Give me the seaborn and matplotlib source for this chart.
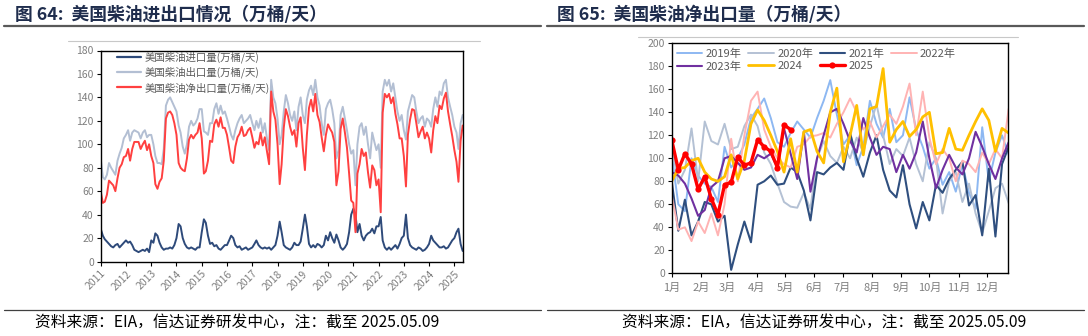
import numpy as np
import pandas as pd
import matplotlib
matplotlib.use("Agg")
import matplotlib.pyplot as plt
from matplotlib.lines import Line2D
import seaborn as sns

# ---------------- data: left chart (monthly, 2011-01 .. 2025-05, 万桶/天) ----------------
export_vol = [
    88, 72, 70, 74, 84, 80, 77, 74, 86, 92, 97, 105,          # 2011
    108, 112, 103, 110, 112, 111, 110, 105, 110, 112, 106, 108,  # 2012
    108, 100, 90, 84, 84, 83, 96, 133, 138, 140, 136, 132,    # 2013
    128, 116, 110, 98, 92, 100, 115, 120, 116, 118, 122, 130,  # 2014
    130, 111, 110, 108, 118, 118, 130, 135, 126, 133, 126, 128,  # 2015
    122, 115, 108, 104, 112, 118, 122, 125, 118, 120, 122, 125,  # 2016
    118, 112, 120, 114, 122, 110, 118, 105, 95, 155, 140, 135,  # 2017
    122, 100, 108, 128, 142, 135, 125, 120, 128, 112, 132, 140,  # 2018
    125, 118, 138, 146, 150, 142, 155, 140, 133, 118, 108, 130,  # 2019
    135, 138, 130, 118, 88, 95, 125, 132, 122, 112, 100, 92,   # 2020
    95, 65, 100, 115, 118, 108, 115, 100, 88, 110, 102, 95,    # 2021
    100, 80, 145, 155, 150, 155, 145, 152, 140, 128, 120, 125,  # 2022
    112, 104, 128, 135, 142, 140, 128, 118, 122, 124, 115, 122,  # 2023
    120, 115, 130, 140, 132, 145, 142, 152, 155, 140, 132, 125,  # 2024
    115, 110, 96, 118, 125,                                   # 2025
]
import_vol = [
    28, 22, 19, 17, 15, 13, 12, 14, 15, 12, 14, 16,
    18, 16, 17, 14, 10, 9, 8, 9, 10, 9, 11, 8,
    18, 16, 24, 22, 16, 12, 10, 11, 11, 12, 11, 14,
    20, 32, 30, 20, 15, 12, 11, 12, 11, 10, 12, 12,
    25, 36, 33, 22, 15, 16, 13, 14, 11, 10, 12, 14,
    14, 18, 22, 20, 14, 12, 13, 10, 11, 12, 10, 11,
    12, 15, 18, 14, 12, 11, 12, 11, 12, 10, 12, 14,
    22, 34, 25, 14, 12, 11, 10, 12, 16, 14, 14, 17,
    28, 40, 30, 15, 12, 14, 12, 15, 14, 12, 14, 22,
    18, 25, 20, 16, 23, 18, 12, 10, 12, 15, 25, 40,
    45, 40, 25, 32, 22, 18, 22, 24, 25, 28, 24, 30,
    30, 38, 18, 12, 10, 12, 10, 12, 14, 11, 15, 20,
    22, 40, 20, 14, 12, 11, 10, 12, 11, 9, 10, 12,
    15, 22, 18, 16, 14, 12, 12, 13, 11, 12, 15, 18,
    20, 25, 28, 15, 9,
]
net_export_vol = [
    60, 50, 51, 57, 69, 67, 65, 60, 71, 80, 83, 89,
    90, 96, 86, 96, 102, 102, 102, 96, 100, 103, 95, 100,
    90, 84, 66, 62, 68, 71, 86, 122, 127, 128, 125, 118,
    108, 84, 80, 78, 77, 88, 104, 108, 105, 108, 110, 118,
    105, 75, 77, 86, 103, 102, 117, 121, 115, 123, 114, 114,
    108, 97, 86, 84, 98, 106, 109, 115, 107, 108, 112, 114,
    106, 97, 102, 100, 110, 99, 106, 94, 83, 145, 128, 121,
    100, 66, 83, 114, 130, 124, 115, 108, 112, 98, 118, 123,
    97, 78, 108, 131, 138, 128, 143, 125, 119, 106, 94, 108,
    117, 113, 110, 102, 65, 77, 113, 122, 110, 97, 75, 52,
    50, 25, 75, 83, 96, 90, 93, 76, 63, 82, 78, 65,
    70, 42, 127, 143, 140, 143, 135, 140, 126, 117, 105, 105,
    90, 64, 108, 121, 130, 129, 118, 106, 111, 115, 105, 110,
    105, 93, 112, 124, 118, 133, 130, 139, 144, 128, 117, 107,
    95, 85, 68, 103, 116,
]
left_labels = ["美国柴油进口量(万桶/天)", "美国柴油出口量(万桶/天)", "美国柴油净出口量(万桶/天)"]
year_ticks = list(range(2011, 2026))

# ---------------- data: right chart (weekly net exports by year) ----------------
y2019 = [103, 60, 54, 100, 85, 78, 75, 62, 110, 92, 100, 112, 135, 143, 152, 135, 114, 110,
         122, 132, 125, 118, 135, 150, 168, 138, 112, 120, 94, 110, 150, 130, 118, 143, 114,
         120, 153, 125, 110, 91, 100, 77, 88, 71, 95, 70, 56, 127, 80, 105, 120, 103]
y2020 = [112, 78, 90, 126, 80, 132, 115, 112, 130, 108, 110, 128, 138, 128, 105, 95, 78, 62,
         58, 57, 70, 56, 100, 115, 102, 96, 110, 100, 118, 105, 128, 147, 120, 95, 108, 102,
         118, 95, 80, 114, 100, 52, 80, 88, 62, 78, 52, 35, 54, 74, 78, 61]
y2021 = [80, 37, 64, 33, 45, 62, 60, 45, 50, 3, 25, 45, 27, 77, 80, 85, 77, 78, 92, 88, 72,
         46, 88, 86, 92, 96, 90, 122, 100, 84, 105, 120, 90, 72, 66, 94, 60, 39, 62, 46, 77,
         70, 82, 90, 97, 59, 68, 33, 91, 32, 95, 110]
y2022 = [68, 38, 40, 28, 45, 35, 52, 33, 60, 117, 80, 120, 150, 158, 125, 110, 100, 95, 92,
         110, 112, 119, 120, 122, 118, 130, 140, 152, 140, 125, 132, 118, 128, 138, 130, 145,
         165, 120, 158, 118, 95, 108, 100, 80, 98, 95, 88, 105, 95, 108, 100, 143]
y2023 = [88, 85, 78, 65, 50, 55, 75, 80, 100, 102, 96, 90, 92, 103, 100, 104, 92, 126, 104,
         82, 123, 71, 100, 120, 140, 143, 130, 115, 105, 135, 118, 103, 110, 108, 88, 103, 91,
         105, 132, 100, 74, 90, 103, 92, 86, 100, 123, 110, 95, 82, 100, 114]
y2024 = [80, 91, 92, 98, 100, 88, 82, 80, 84, 103, 82, 98, 130, 142, 133, 120, 106, 88, 117,
         88, 123, 125, 106, 96, 140, 161, 97, 120, 146, 103, 143, 145, 178, 114, 125, 132, 119,
         125, 136, 140, 104, 105, 126, 108, 107, 120, 132, 143, 133, 106, 126, 122]
y2025 = [116, 90, 104, 95, 73, 84, 65, 51, 77, 79, 101, 94, 96, 116, 110, 106, 92, 129, 125]
year_names = ["2019年", "2020年", "2021年", "2022年", "2023年", "2024", "2025"]
month_labels = [f"{m}月" for m in range(1, 13)]
month_start_days = [0, 31, 59, 90, 120, 151, 181, 212, 243, 273, 304, 334]

# ---------------- style ----------------
sns.set_style("ticks")
plt.rcParams["font.family"] = ["Noto Sans CJK SC", "DejaVu Sans"]
plt.rcParams["axes.unicode_minus"] = False

W, H = 1088, 336
fig = plt.figure(figsize=(W / 100, H / 100), dpi=100)


def fx(px):
    return px / W


def fy(py):
    return 1 - py / H


TICK_GRAY = "#7f7f7f"

# ---------------- left chart ----------------
ax1 = fig.add_axes([fx(100.7), fy(261.5), (463.3 - 100.7) / W, (261.5 - 50.5) / H])
dates = pd.date_range("2011-01-01", periods=len(export_vol), freq="MS")
df_left = pd.DataFrame({"date": dates, left_labels[0]: import_vol,
                        left_labels[1]: export_vol, left_labels[2]: net_export_vol})
long_left = df_left.melt("date", var_name="series", value_name="value")
left_colors = {left_labels[0]: "#2e4a7a", left_labels[1]: "#b3bfd3", left_labels[2]: "#ff4040"}
sns.lineplot(data=long_left, x="date", y="value", hue="series", hue_order=left_labels,
             palette=left_colors, linewidth=1.4, ax=ax1, legend=False)
ax1.set_xlim(pd.Timestamp("2011-01-01"), pd.Timestamp("2025-05-10"))
ax1.set_ylim(0, 180)
ax1.set_yticks(range(0, 181, 20))
ax1.set_xticks([pd.Timestamp(f"{y}-01-01") for y in year_ticks])
ax1.set_xticklabels([str(y) for y in year_ticks], rotation=45, ha="right",
                    rotation_mode="anchor")
ax1.set_xlabel("")
ax1.set_ylabel("")
handles = [Line2D([], [], color=left_colors[l], lw=1.6) for l in left_labels]
ax1.legend(handles, left_labels, loc="upper left", bbox_to_anchor=(0.045, 0.995),
           frameon=False, fontsize=7.5, handlelength=2.3, handletextpad=0.3,
           labelspacing=0.36, borderpad=0, borderaxespad=0, labelcolor="#595959")

# ---------------- right chart ----------------
ax2 = fig.add_axes([fx(671.7), fy(273.3), (1007.7 - 671.7) / W, (273.3 - 43.3) / H])
series_r = [y2019, y2020, y2021, y2022, y2023, y2024, y2025]
colors_r = ["#8db8f2", "#b4c1d4", "#2f4f7f", "#ffb3b3", "#7030a0", "#ffc000", "#ff0000"]
widths_r = [1.4, 1.4, 1.5, 1.4, 1.5, 2.0, 2.4]
for name, vals, col, lw in zip(year_names, series_r, colors_r, widths_r):
    days = [7 * k for k in range(len(vals))]
    kw = dict(marker="o", markersize=4.5, markeredgewidth=0) if name == "2025" else {}
    sns.lineplot(x=days, y=vals, color=col, linewidth=lw, ax=ax2, label=name, **kw)
ax2.set_xlim(0, 356)
ax2.set_ylim(0, 200)
ax2.set_yticks(range(0, 201, 20))
ax2.set_xticks(month_start_days)
ax2.set_xticklabels(month_labels)
hs, ls = ax2.get_legend_handles_labels()
order = [0, 4, 1, 5, 2, 6, 3]
ax2.legend([hs[i] for i in order], [ls[i] for i in order], ncol=4, loc="upper left",
           bbox_to_anchor=(0.015, 0.978), frameon=False, fontsize=8, handlelength=2.3,
           handletextpad=0.3, columnspacing=0.6, labelspacing=0.22, borderpad=0,
           borderaxespad=0, labelcolor="#595959")

for ax in (ax1, ax2):
    for s in ax.spines.values():
        s.set_color("black")
        s.set_linewidth(1.0)
        s.set_visible(True)
    ax.tick_params(axis="both", labelsize=7.5, labelcolor=TICK_GRAY, color="black",
                   length=3, width=0.8, direction="out", pad=2)
ax2.tick_params(axis="x", labelsize=8, pad=4)

# ---------------- page decorations ----------------
title_kw = dict(fontsize=12.8, fontweight="bold", color="#1f2d4d", va="center", ha="left")
fig.text(fx(15), fy(15), "图 64:  美国柴油进出口情况（万桶/天）", **title_kw)
fig.text(fx(557), fy(15), "图 65:  美国柴油净出口量（万桶/天）", **title_kw)

def hline(x0, x1, y, color, lw):
    fig.add_artist(Line2D([fx(x0), fx(x1)], [fy(y), fy(y)], transform=fig.transFigure,
                          color=color, lw=lw))

hline(4, 541, 25.5, "#595959", 1.6)
hline(547, 1084, 25.5, "#595959", 1.6)
hline(68, 480, 40.5, "#c8c8c8", 0.8)
hline(638, 1018, 36.5, "#c8c8c8", 0.8)
hline(4, 541, 310, "#404040", 0.9)
hline(547, 1084, 310, "#404040", 0.9)

src = "资料来源：EIA，信达证券研发中心，注：截至 2025.05.09"
fig.text(fx(35), fy(322), src, fontsize=11.3, color="black", va="center", ha="left",
         style="italic")
fig.text(fx(622), fy(322), src, fontsize=11.3, color="black", va="center", ha="left",
         style="italic")

fig.savefig("out.png", dpi=100)
